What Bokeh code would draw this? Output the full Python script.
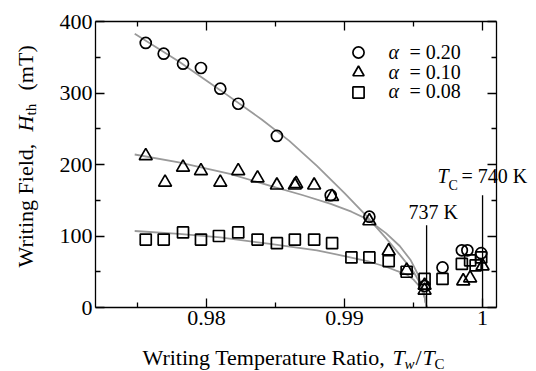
from bokeh.plotting import figure
from bokeh.models import (FixedTicker, LinearAxis, Label, Legend, LegendItem,
                          CustomJSTickFormatter, Range1d)
from bokeh.embed import file_html
from bokeh.resources import INLINE
import math

# ---------------- data ----------------
# alpha = 0.20 (circles)
c_x = [0.9756, 0.9769, 0.9783, 0.9796, 0.9810, 0.9823, 0.9851, 0.9890, 0.9918,
       0.9958, 0.9971, 0.9985, 0.9989, 0.9999]
c_y = [370, 355, 341, 335, 306, 285, 240, 157, 127, 30, 56, 80, 80, 76]
# alpha = 0.10 (triangles)
t_x = [0.9756, 0.9770, 0.9783, 0.9796, 0.9810, 0.9823, 0.9837, 0.9851, 0.9864,
       0.9865, 0.9878, 0.9891, 0.9918, 0.9932, 0.9945, 0.9958, 0.9958, 0.9986,
       0.9991, 1.0000]
t_y = [212, 175, 196, 191, 175, 191, 181, 171, 171, 173, 171, 155, 121, 79, 52,
       31, 24, 37, 41, 58]
# alpha = 0.08 (squares)
s_x = [0.9756, 0.9769, 0.9783, 0.9796, 0.9809, 0.9823, 0.9837, 0.9851, 0.9864,
       0.9878, 0.9891, 0.9905, 0.9918, 0.9932, 0.9945, 0.9958, 0.9971, 0.9985,
       0.9991, 0.9995, 0.9999]
s_y = [95, 95, 105, 95, 100, 105, 95, 90, 95, 95, 90, 70, 70, 65, 50, 40, 40,
       61, 66, 59, 70]

# fitted curves
fc_x = [0.9748, 0.9780, 0.9810, 0.9840, 0.9860, 0.9880, 0.9900, 0.9915, 0.9930,
        0.9940, 0.9950, 0.9955, 0.9958, 0.99595]
fc_y = [383, 344, 304, 263, 233, 198, 160, 130, 97, 74, 50, 33, 16, 0]
ft_x = [0.9748, 0.9780, 0.9817, 0.9850, 0.9870, 0.9890, 0.9905, 0.9916, 0.9930,
        0.9940, 0.9948, 0.9953, 0.9957, 0.99595]
ft_y = [214, 203, 187, 168, 157, 145, 134, 124, 104, 86, 66, 47, 24, 0]
fs_x = [0.9748, 0.9780, 0.9810, 0.9846, 0.9880, 0.9900, 0.9918, 0.9930, 0.9945,
        0.9950, 0.9955, 0.9958, 0.99595]
fs_y = [107, 103, 98, 89, 80, 72, 64, 57, 46, 39, 28, 15, 0]

# vertical reference lines (737 K and Tc = 740 K)
vl_x = [737 / 740, 1.0]
vl_top = [115, 157]

x_major = [0.98, 0.99, 1.0]
x_minor = [0.975, 0.985, 0.995]
y_major = [0, 100, 200, 300, 400]
y_minor = [50, 150, 250, 350]

legend_labels = ["= 0.20", "= 0.10", "= 0.08"]

# axis box limits (data)
X0, X1 = 0.97196, 1.00101
Y0, Y1 = 0, 400

FONT = "Liberation Serif"

# canvas geometry: the axes box spans px 95..496 horizontally, 21..307 vertically
W, H = 536, 371
BL, BR, BT, BB = 95, 496, 21, 307
xs = (X1 - X0) / (BR - BL)
ys = (Y1 - Y0) / (BB - BT)

p = figure(width=W, height=H, output_backend="svg", toolbar_location=None,
           x_range=Range1d(X0 - BL * xs, X1 + (W - BR) * xs),
           y_range=Range1d(Y0 - (H - BB) * ys, Y1 + BT * ys),
           min_border=0, x_axis_type=None, y_axis_type=None)
p.xgrid.visible = False
p.ygrid.visible = False
p.outline_line_color = None
p.background_fill_color = "white"
p.border_fill_color = "white"

xt = FixedTicker(ticks=x_major, minor_ticks=x_minor)
yt = FixedTicker(ticks=y_major, minor_ticks=y_minor)


def style(ax, show_labels):
    ax.major_tick_in = 9
    ax.major_tick_out = 0
    ax.minor_tick_in = 5
    ax.minor_tick_out = 0
    ax.axis_line_color = "black"
    ax.axis_line_width = 1.3
    ax.major_tick_line_width = 1.3
    ax.minor_tick_line_width = 1.3
    ax.major_label_text_font = FONT
    ax.major_label_text_color = "black"
    if show_labels:
        ax.major_label_text_font_size = "22px"
    else:
        ax.major_label_text_font_size = "0px"
        ax.major_label_text_alpha = 0


xb = LinearAxis(ticker=xt, fixed_location=Y0, bounds=(X0, X1),
                formatter=CustomJSTickFormatter(
                    code="return tick > 0.9999 ? '1' : tick.toFixed(2);"))
style(xb, True)
xb.major_label_standoff = 3
p.add_layout(xb, "below")
xa = LinearAxis(ticker=xt, fixed_location=Y1, bounds=(X0, X1))
style(xa, False)
p.add_layout(xa, "above")
yl = LinearAxis(ticker=yt, fixed_location=X0, bounds=(Y0, Y1))
style(yl, True)
yl.major_label_standoff = 3
p.add_layout(yl, "left")
yr = LinearAxis(ticker=yt, fixed_location=X1, bounds=(Y0, Y1))
style(yr, False)
p.add_layout(yr, "right")

# fit curves
GRAY = "#9a9a9a"
p.line(fc_x, fc_y, line_color=GRAY, line_width=1.8)
p.line(ft_x, ft_y, line_color=GRAY, line_width=1.8)
p.line(fs_x, fs_y, line_color=GRAY, line_width=1.8)

# vertical lines
p.segment(x0=vl_x, y0=[0, 0], x1=vl_x, y1=vl_top, line_color="black",
          line_width=1.3)

# data
rc = p.scatter(c_x, c_y, marker="circle", size=11, fill_alpha=0,
               line_color="black", line_width=1.7)
rt = p.scatter(t_x, t_y, marker="triangle", size=13, fill_alpha=0,
               line_color="black", line_width=1.7)
rs = p.scatter(s_x, s_y, marker="square", size=11, fill_alpha=0,
               line_color="black", line_width=1.7)

# legend: one single-item legend per row so that the rows sit 20 px apart
for r, fy in zip([rc, rt, rs], [305, 285, 265]):
    lg = Legend(items=[LegendItem(label="", renderers=[r])],
                location=(344, fy), padding=0, margin=0, spacing=0,
                glyph_height=28, glyph_width=28, label_height=28,
                label_width=0, label_standoff=0,
                border_line_color=None, background_fill_alpha=0)
    p.add_layout(lg, "center")


def lab(x, y, text, size="22px", style="normal", angle=0.0):
    p.add_layout(Label(x=x, y=y, x_units="screen", y_units="screen", text=text,
                       text_font=FONT, text_font_size=size,
                       text_font_style=style, text_baseline="alphabetic",
                       text_align="left", angle=angle, text_color="black"))


# legend texts (baselines measured from the canvas bottom)
rows_fy = [320, 300, 281]
for lbl, fy in zip(legend_labels, rows_fy):
    lab(388, fy, "α", "20px", "italic")
    lab(409, fy, lbl, "20px")

# annotation labels
lab(408, 160, "737 K", "20px")
lab(437, 196, "T", "20px", "italic")
lab(448, 186, "C", "14px")
lab(461, 196, "= 740 K", "20px")

# x axis label
lab(142, 14, "Writing Temperature Ratio,")
lab(392, 14, "T", style="italic")
lab(404, 8, "w", "15px", "italic")
lab(415, 14, "/")
lab(422, 14, "T", style="italic")
lab(434, 8, "C", "15px")

# y axis label (rotated)
A = math.pi / 2
lab(25, 104, "Writing Field,", angle=A)
lab(25, 240, "H", style="italic", angle=A)
lab(30, 256, "th", "15px", angle=A)
lab(25, 281, "(mT)", angle=A)

open("out.html", "w").write(file_html(p, INLINE))
